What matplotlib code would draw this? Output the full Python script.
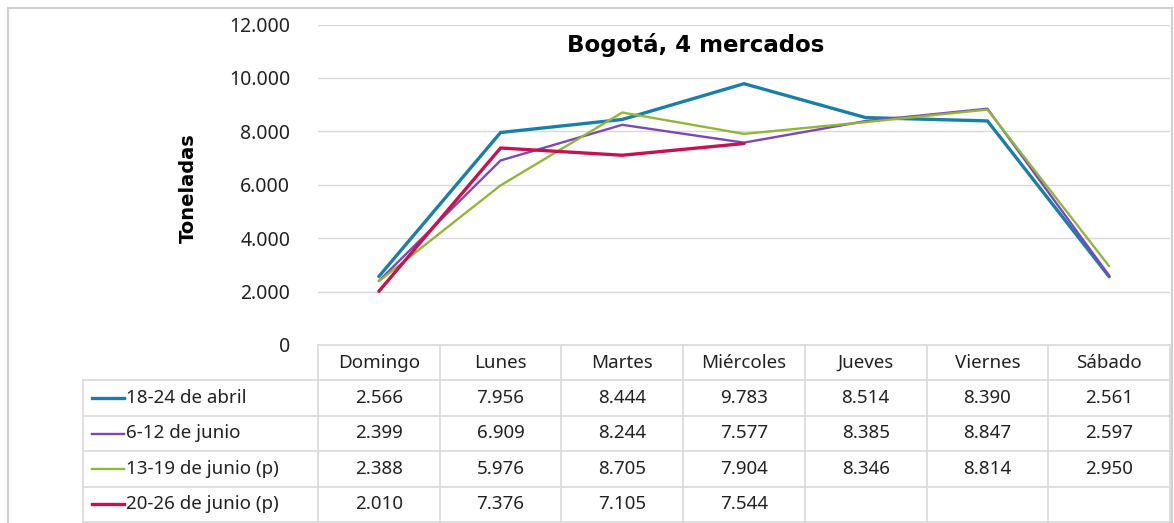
import matplotlib
matplotlib.use("Agg")
import matplotlib.pyplot as plt
from matplotlib.patches import Rectangle

days = ["Domingo", "Lunes", "Martes", "Miércoles", "Jueves", "Viernes", "Sábado"]
series_names = ["18-24 de abril", "6-12 de junio", "13-19 de junio (p)", "20-26 de junio (p)"]
abril_18_24 = [2566, 7956, 8444, 9783, 8514, 8390, 2561]
junio_6_12 = [2399, 6909, 8244, 7577, 8385, 8847, 2597]
junio_13_19 = [2388, 5976, 8705, 7904, 8346, 8814, 2950]
junio_20_26 = [2010, 7376, 7105, 7544, None, None, None]
series_values = [abril_18_24, junio_6_12, junio_13_19, junio_20_26]
colors = ["#1a7fa8", "#7a48bd", "#93b53a", "#c8124f"]
widths = [2.4, 1.7, 1.7, 2.4]
yticks = [0, 2000, 4000, 6000, 8000, 10000, 12000]
title = "Bogotá, 4 mercados"
ylabel = "Toneladas"

W, H = 1174, 523
fig = plt.figure(figsize=(W / 100, H / 100), dpi=100)
plt.rcParams['font.family'] = ['Noto Sans', 'DejaVu Sans']

def fx(px):
    return px / W

def fy(py):
    return 1 - py / H

grid_c = "#d9d9d9"
txt_c = "#222222"

# outer chart border
fig.add_artist(Rectangle((fx(8), fy(540)), fx(1172) - fx(8), fy(8) - fy(540),
                         transform=fig.transFigure, fill=False, edgecolor="#d0d0d0", lw=1.5))

x0, x1 = 318, 1170
ytop, ybot = 24.5, 345
ax = fig.add_axes([fx(x0), fy(ybot), fx(x1) - fx(x0), fy(ytop) - fy(ybot)])
n = len(days)
xs = list(range(n))
for vals, c, lw in zip(series_values, colors, widths):
    pts = [(x, v) for x, v in zip(xs, vals) if v is not None]
    ax.plot([p[0] for p in pts], [p[1] for p in pts], color=c, lw=lw, solid_capstyle="round")
ax.set_xlim(-0.5, n - 0.5)
ax.set_ylim(0, 12000)
ax.set_yticks(yticks)
ax.set_yticklabels([f"{v:,}".replace(",", ".") for v in yticks], fontsize=14, color=txt_c)
ax.tick_params(axis="y", length=0, pad=20)
ax.set_xticks([])
for s in ax.spines.values():
    s.set_visible(False)
ax.grid(axis="y", color=grid_c, lw=1)
ax.set_axisbelow(True)
fig.text(fx(696), fy(45), title, fontsize=16.5, fontweight="bold", family="DejaVu Sans",
         ha="center", va="center")
fig.text(fx(188), fy(188), ylabel, rotation=90, fontsize=14, fontweight="bold",
         family="DejaVu Sans", ha="center", va="center")

# data table
tl = 83
ty0, ty1 = 345, 522
tab = fig.add_axes([fx(tl), fy(ty1), fx(x1) - fx(tl), fy(ty0) - fy(ty1)])
colw = (x1 - x0) / n
left_units = -0.5 - (x0 - tl) / colw
tab.set_xlim(left_units, n - 0.5)
nrows = len(series_names) + 1
tab.set_ylim(nrows, 0)
tab.axis("off")
lk = dict(color=grid_c, lw=1.2, clip_on=False)
tab.plot([-0.5, n - 0.5], [0, 0], **lk)
for r in range(1, nrows + 1):
    tab.plot([left_units, n - 0.5], [r, r], **lk)
for c in range(n + 1):
    tab.plot([c - 0.5, c - 0.5], [0, nrows], **lk)
tab.plot([left_units, left_units], [1, nrows], **lk)

fs = 13.5
for i, d in enumerate(days):
    tab.text(i, 0.5, d, ha="center", va="center", fontsize=fs, color=txt_c)
key_x0 = left_units + 9 / colw
key_x1 = left_units + 41 / colw
for r, (name, vals, c, lw) in enumerate(zip(series_names, series_values, colors, widths), start=1):
    tab.plot([key_x0, key_x1], [r + 0.5, r + 0.5], color=c, lw=lw)
    tab.text(key_x1 + 2 / colw, r + 0.5, name, ha="left", va="center", fontsize=fs, color=txt_c)
    for i, v in enumerate(vals):
        if v is not None:
            tab.text(i, r + 0.5, f"{v:,}".replace(",", "."), ha="center", va="center",
                     fontsize=fs, color=txt_c)

fig.savefig("out.png", dpi=100)
